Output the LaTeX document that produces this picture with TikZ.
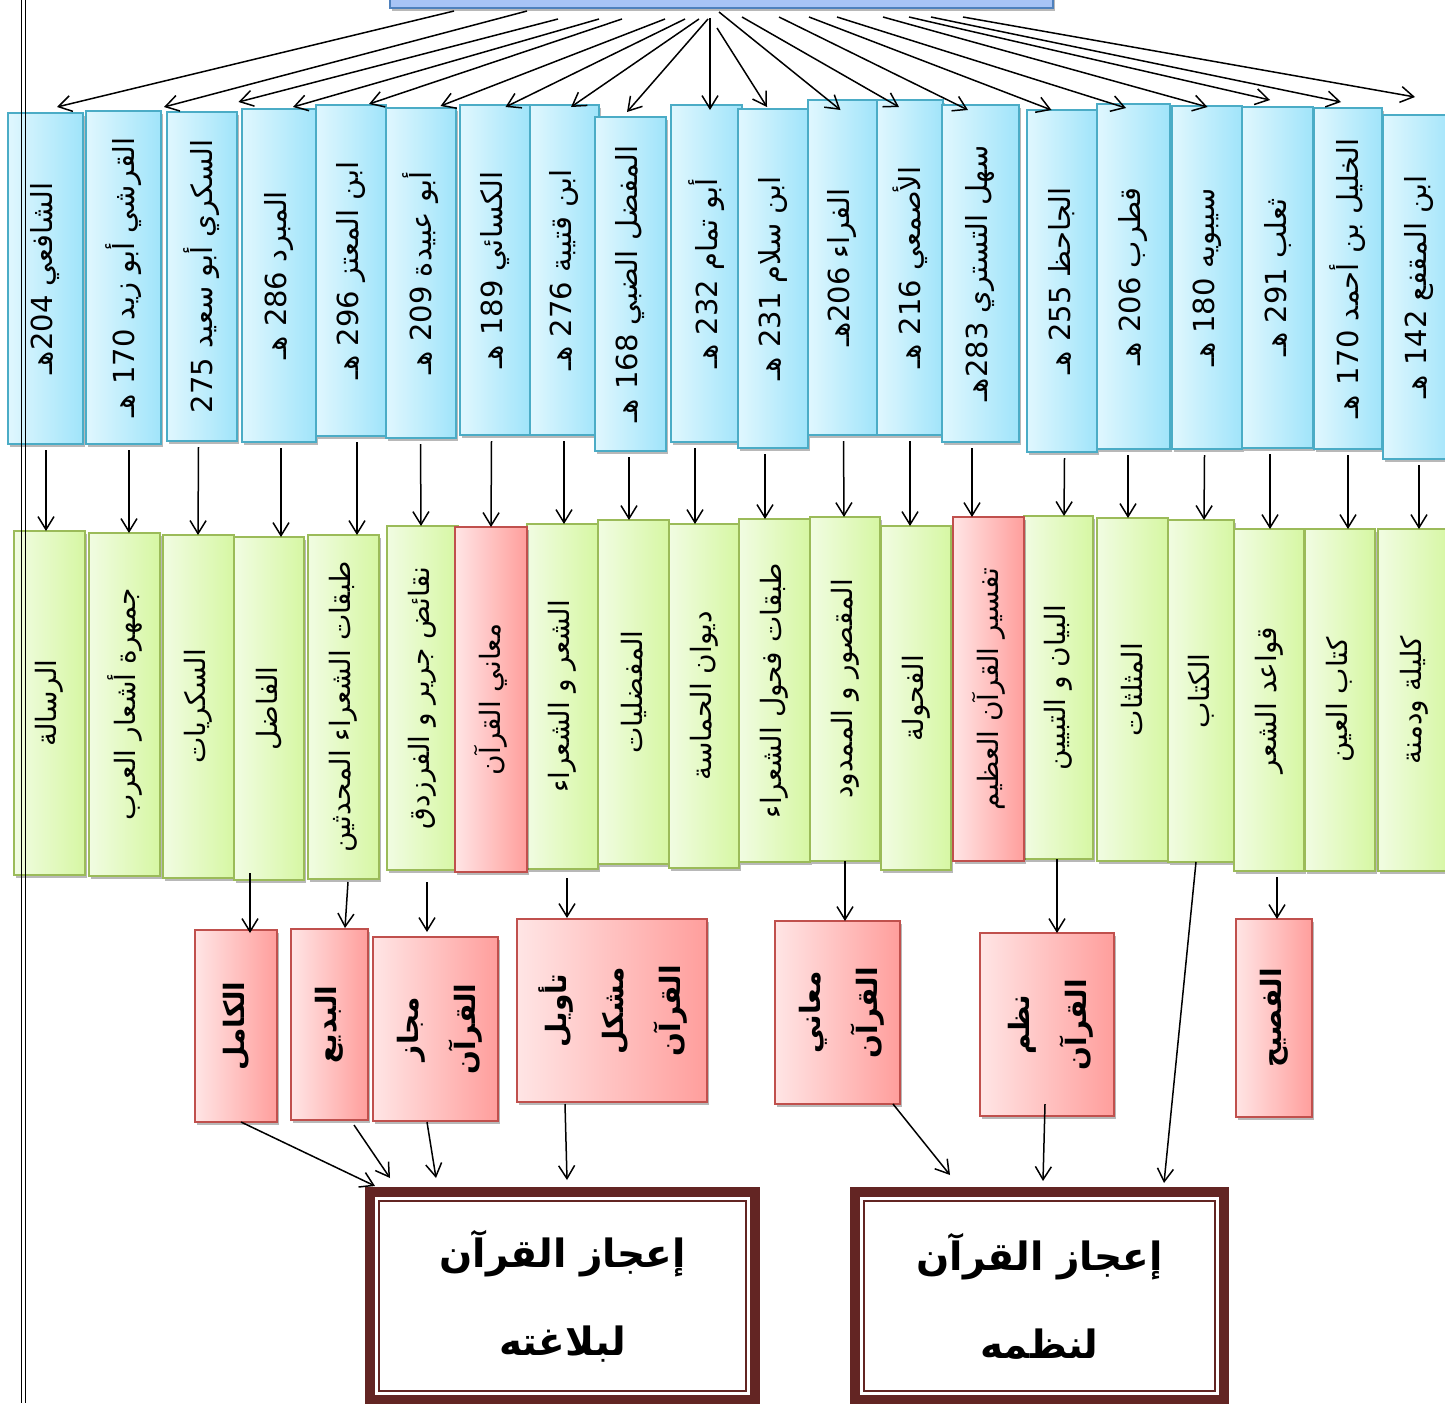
\documentclass[tikz,border=0pt]{standalone}
\usepackage{fontspec}
\usepackage{graphicx}
\usetikzlibrary{arrows.meta,shadows}
\TeXXeTstate=1
\newfontfamily\arfont[Script=Arabic]{DejaVu Sans}

\definecolor{bluel}{RGB}{224,247,254}
\definecolor{bluer}{RGB}{160,228,250}
\definecolor{blueedge}{RGB}{75,172,198}
\definecolor{greenl}{RGB}{241,252,226}
\definecolor{greenr}{RGB}{214,247,163}
\definecolor{greenedge}{RGB}{155,187,89}
\definecolor{redl}{RGB}{255,229,229}
\definecolor{redr}{RGB}{255,158,156}
\definecolor{rededge}{RGB}{192,80,77}
\definecolor{hdrfill}{RGB}{168,196,246}
\definecolor{hdredge}{RGB}{79,129,189}
\definecolor{finbrown}{RGB}{99,37,35}

\tikzset{
  shadowed/.style={drop shadow={shadow xshift=1.5pt,shadow yshift=-3pt,opacity=0.28,fill=black}},
  card/.style={shadowed, line width=1.4pt, inner sep=0pt, outer sep=0pt},
  bluecard/.style={card, draw=blueedge, left color=bluel, right color=bluer},
  greencard/.style={card, draw=greenedge, left color=greenl, right color=greenr},
  redcard/.style={card, draw=rededge, left color=redl, right color=redr},
  nametext/.style={font=\arfont\fontsize{29}{33}\selectfont},
  booktext/.style={font=\arfont\fontsize{28}{32}\selectfont},
  worktext/.style={font=\arfont\bfseries\fontsize{28}{57}\selectfont},
  arr/.style={line width=1.5pt, -{Straight Barb[length=13pt,width=16pt]}},
  finbox/.style={draw=finbrown, line width=10pt, fill=white, inner sep=0pt, outer sep=0pt,
    align=center, font=\arfont\bfseries\fontsize{39}{88}\selectfont},
}

\begin{document}
\begin{tikzpicture}[x=1pt,y=-1pt]
\useasboundingbox (0,0) rectangle (1445,1403);

% header box (only its lower edge is on the page)
\node[draw=hdredge, line width=1.4pt, fill=hdrfill, shadowed, inner sep=0pt, outer sep=0pt,
      minimum width=663pt, minimum height=60pt] (hdr) at (721.5,-22) {};

% scholars
\foreach \i/\xa/\xb/\ya/\yb/\lbl in {
  1/8/83/113/444/{الشافعي 204\kern0ptهـ},
  2/86/161/111/444/{القرشي أبو زيد 170 هـ},
  3/167/237/112/441/{السكري أبو سعيد 275},
  4/242/316/109/442/{المبرد 286 هـ},
  5/316/386/105/436/{ابن المعتز 296 هـ},
  6/386/456/108/438/{أبو عبيدة 209 هـ},
  7/460/530/105/435/{الكسائي 189 هـ},
  8/530/599/105/435/{ابن قتيبة 276 هـ},
  9/595/666/117/451/{المفضل الضبي 168 هـ},
  10/671/742/105/442/{أبو تمام 232 هـ},
  11/738/808/109/448/{ابن سلام 231 هـ},
  12/808/877/100/435/{الفراء 206\kern0ptهـ},
  13/877/943/100/435/{الأصمعي 216 هـ},
  14/942/1019/105/442/{سهل التستري 283\kern0ptهـ},
  15/1027/1097/110/452/{الجاحظ 255 هـ},
  16/1097/1170/104/449/{قطرب 206 هـ},
  17/1172/1242/106/449/{سيبويه 180 هـ},
  18/1242/1313/107/448/{ثعلب 291 هـ},
  19/1314/1382/108/449/{الخليل بن أحمد 170 هـ},
  20/1383/1455/115/459/{ابن المقفع 142 هـ}}
  \node[bluecard, nametext, minimum width={(\xb-\xa)*1pt}, minimum height={(\yb-\ya)*1pt}]
    (t\i) at ({(\xa+\xb)/2},{(\ya+\yb)/2}) {\rotatebox{90}{\beginR\lbl\endR}};

% books
\foreach \i/\xa/\xb/\ya/\yb/\lbl in {
  1/14/85/531/875/{الرسالة},
  2/89/160/533/876/{جمهرة أشعار العرب},
  3/163/234/535/878/{السكريات},
  4/234/304/537/880/{الفاضل},
  5/308/379/535/879/{طبقات الشعراء المحدثين},
  6/387/458/526/870/{نقائض جرير و الفرزدق},
  8/527/598/524/869/{الشعر و الشعراء},
  9/598/669/520/864/{المفضليات},
  10/669/739/524/868/{ديوان الحماسة},
  11/739/810/519/862/{طبقات فحول الشعراء},
  12/810/880/517/861/{المقصور و الممدود},
  13/881/951/526/870/{الفحولة},
  15/1024/1093/516/859/{البيان و التبيين},
  16/1097/1168/518/861/{المثلثات},
  17/1168/1234/520/862/{الكتاب},
  18/1234/1304/529/871/{قواعد الشعر},
  19/1305/1375/529/871/{كتاب العين},
  20/1378/1450/529/871/{كليلة ودمنة}}
  \node[greencard, booktext, minimum width={(\xb-\xa)*1pt}, minimum height={(\yb-\ya)*1pt}]
    (b\i) at ({(\xa+\xb)/2},{(\ya+\yb)/2}) {\rotatebox{90}{\beginR\lbl\endR}};
\node[redcard, booktext, minimum width=72pt, minimum height=345pt] (b7) at (491,699.5)
  {\rotatebox{90}{\beginR معاني القرآن\endR}};
\node[redcard, booktext, minimum width=71pt, minimum height=344pt] (b14) at (988.5,689)
  {\rotatebox{90}{\beginR تفسير  القرآن العظيم\endR}};

% works on the Qur'an
\node[redcard, worktext, minimum width=82pt, minimum height=192pt] (k1) at (236,1026)
  {\rotatebox{90}{الكامل}};
\node[redcard, worktext, minimum width=77pt, minimum height=191pt] (k2) at (329.5,1024.5)
  {\rotatebox{90}{البديع}};
\node[redcard, worktext, minimum width=125pt, minimum height=184pt] (k3) at (435.5,1029)
  {\rotatebox{90}{\begin{tabular}{@{}c@{}}مجاز\\القرآن\end{tabular}}};
\node[redcard, worktext, minimum width=190pt, minimum height=183pt] (k4) at (612,1010.5)
  {\rotatebox{90}{\begin{tabular}{@{}c@{}}تأويل\\مشكل\\القرآن\end{tabular}}};
\node[redcard, worktext, minimum width=125pt, minimum height=183pt] (k5) at (837.5,1012.5)
  {\rotatebox{90}{\begin{tabular}{@{}c@{}}معاني\\القرآن\end{tabular}}};
\node[redcard, worktext, minimum width=134pt, minimum height=183pt] (k6) at (1047,1024.5)
  {\rotatebox{90}{\begin{tabular}{@{}c@{}}نظم\\القرآن\end{tabular}}};
\node[redcard, worktext, minimum width=76pt, minimum height=198pt] (k7) at (1274,1018)
  {\rotatebox{90}{الفصيح}};

% conclusions
\node[finbox, minimum width=385pt, minimum height=208pt] (f1) at (562.5,1296)
  {\beginR إعجاز القرآن\endR\\لبلاغته};
\draw[finbrown, line width=2.5pt] ([shift={(9,9)}]f1.north west) rectangle ([shift={(-9,-9)}]f1.south east);
\node[finbox, minimum width=369pt, minimum height=208pt] (f2) at (1039.5,1296)
  {\beginR إعجاز القرآن\endR\\لنظمه};
\draw[finbrown, line width=2.5pt] ([shift={(9,9)}]f2.north west) rectangle ([shift={(-9,-9)}]f2.south east);

% header to scholars
\foreach \k/\sx/\sy/\dx/\dy in {
  1/64/3/11.5/-6, 2/137/3/40.5/-4, 3/168/11/36.5/-10, 4/209/11/14/-2, 5/232/11/18/-1,
  6/275/11/19.5/-2, 7/295/11/10.5/2, 8/309/11/6.5/2, 9/318/11/-3.5/-5, 10/320/10/3.5/5,
  11/327/20/-6/-2, 12/329/4/-2/10, 13/352/9/-11/7, 14/389/9/-12.5/5, 15/419/9/-10.5/0,
  16/447/9/-7.5/4, 17/493/9/0.5/1, 18/519/9/-7.5/-7, 19/541/9/-7/-6, 20/573/9/-4/-18}
  \draw[arr] ([shift={(\sx,\sy)}]hdr.south west) -- ([shift={(\dx,\dy)}]t\k.north);

% scholars to books
\foreach \k/\ex/\dx in {
  1/0.5/-3.5, 2/5.5/4.5, 3/-3.5/-0.5, 4/2/12, 5/6/13.5, 6/-0.5/-1.5, 7/-3.5/0,
  8/-0.5/1.5, 9/-1.5/-4.5, 10/-11.5/-9, 11/-8/-9.5, 12/1/-1, 13/0/-6, 14/-8.5/-16.5,
  15/2.5/5.5, 16/-5.5/-4.5, 17/-2.5/3, 18/-7.5/1, 19/0/8, 20/0/5}
  \draw[arr] ([shift={(\ex,6)}]t\k.south) -- ([shift={(\dx,0)}]b\k.north);

% books to works
\draw[arr] ([shift={(-19,-7)}]b4.south) -- ([shift={(14,3)}]k1.north);
\draw[arr] ([shift={(4.5,3)}]b5.south) -- ([shift={(15.5,-1)}]k2.north);
\draw[arr] ([shift={(4.5,12)}]b6.south) -- ([shift={(-8.5,-5)}]k3.north);
\draw[arr] ([shift={(4.5,9)}]b8.south) -- ([shift={(-45,-1)}]k4.north);
\draw[arr] (b12.south) -- ([shift={(7.5,0)}]k5.north);
\draw[arr] ([shift={(-1.5,0)}]b15.south) -- ([shift={(10,0)}]k6.north);
\draw[arr] ([shift={(8,6)}]b18.south) -- ([shift={(3,0)}]k7.north);

% works to conclusions
\draw[arr] ([shift={(5,0)}]k1.south) -- ([shift={(5,-6)}]f1.north west);
\draw[arr] ([shift={(24.5,5)}]k2.south) -- ([shift={(20,-14)}]f1.north west);
\draw[arr] ([shift={(-8.5,1)}]k3.south) -- ([shift={(66,-14)}]f1.north west);
\draw[arr] ([shift={(-47,2)}]k4.south) -- ([shift={(197,-12)}]f1.north west);
\draw[arr] ([shift={(55.5,0)}]k5.south) -- ([shift={(95,-17)}]f2.north west);
\draw[arr] ([shift={(-2,-12)}]k6.south) -- ([shift={(188,-11)}]f2.north west);
\draw[arr] ([shift={(-5,0)}]b17.south) -- ([shift={(309,-9)}]f2.north west);

% page rule on the left
\draw[line width=0.9pt] (21.5,0) -- (21.5,1403) (25.5,0) -- (25.5,1403);
\end{tikzpicture}
\end{document}
